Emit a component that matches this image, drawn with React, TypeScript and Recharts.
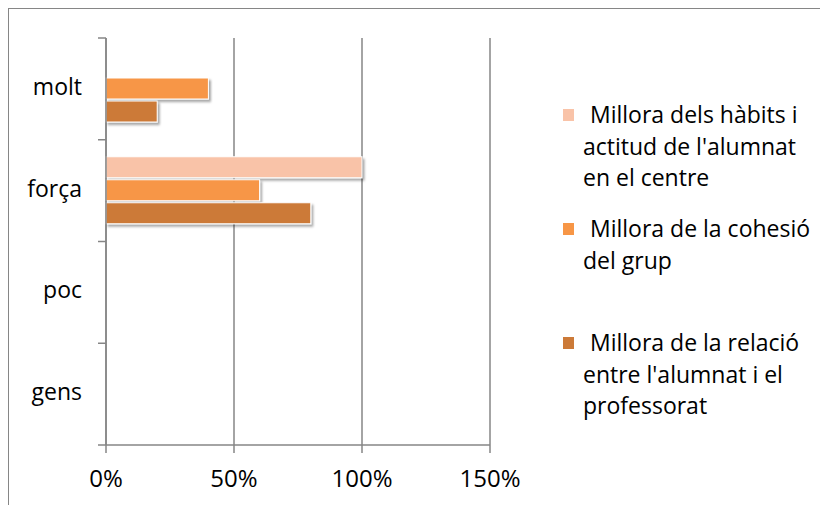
import { Bar, BarChart, CartesianGrid, XAxis, YAxis } from "recharts";

const categories = ["molt", "força", "poc", "gens"];
const habitsValues = [0, 100, 0, 0];
const cohesionValues = [40, 60, 0, 0];
const relationValues = [20, 80, 0, 0];
const xTicks = [0, 50, 100, 150];

const seriesNames = [
  "Millora dels hàbits i\nactitud de l'alumnat\nen el centre",
  "Millora de la cohesió\ndel grup",
  "Millora de la relació\nentre l'alumnat i el\nprofessorat",
];
const seriesColors = ["#F9C3A8", "#F79646", "#CC7A38"];

const data = categories.map((cat, i) => ({
  cat,
  habits: habitsValues[i],
  cohesion: cohesionValues[i],
  relation: relationValues[i],
}));

const AXIS = "#868686";
const FONT = "'Open Sans', 'Noto Sans', sans-serif";

function ShadowRect(props: any) {
  const { x, y, width, height, fill } = props;
  if (!width || width <= 0) return null;
  return (
    <rect x={x} y={y} width={width} height={height} fill={fill} stroke="#fff" strokeWidth={1} filter="url(#barShadow)" />
  );
}

// category label plus Excel-style tick marks on the band boundaries
function CategoryTick(props: any) {
  const { x, y, payload, index, visibleTicksCount } = props;
  const half = payload.offset ?? 0;
  const last = index === visibleTicksCount - 1;
  return (
    <g>
      <line x1={x - 8} x2={x} y1={y - half} y2={y - half} stroke={AXIS} strokeWidth={1.5} />
      {last && <line x1={x - 8} x2={x} y1={y + half} y2={y + half} stroke={AXIS} strokeWidth={1.5} />}
      <text x={x - 24} y={y} dy={6} textAnchor="end" fontSize={23} fill="#000" fontFamily={FONT}>
        {payload.value}
      </text>
    </g>
  );
}

export default function App() {
  const keys = ["habits", "cohesion", "relation"];
  return (
    <div style={{ position: "relative", width: 817, height: 510, border: `1px solid ${AXIS}`, fontFamily: FONT }}>
      <style>{`html,body{overflow:hidden}`}</style>
      <svg width={0} height={0} style={{ position: "absolute" }}>
        <defs>
          <filter id="barShadow" x="-10%" y="-30%" width="130%" height="180%">
            <feDropShadow dx={2} dy={2.5} stdDeviation={1.3} floodColor="#000" floodOpacity={0.35} />
          </filter>
        </defs>
      </svg>
      <div style={{ position: "absolute", left: 0, top: 0 }}>
        <BarChart
          width={540}
          height={486}
          data={data}
          layout="vertical"
          margin={{ top: 29, right: 59, bottom: 0, left: 0 }}
          barSize={21}
          barGap={2}
        >
          <CartesianGrid horizontal={false} stroke={AXIS} strokeWidth={1.5} />
          <XAxis
            type="number"
            domain={[0, 150]}
            ticks={xTicks}
            tickFormatter={(v: number) => `${v}%`}
            height={50}
            tickSize={8}
            tickMargin={17}
            axisLine={{ stroke: AXIS, strokeWidth: 1.5 }}
            tickLine={{ stroke: AXIS, strokeWidth: 1.5 }}
            tick={{ fontSize: 24, fill: "#000", fontFamily: FONT }}
          />
          <YAxis
            type="category"
            dataKey="cat"
            width={97}
            tickSize={0}
            tickMargin={0}
            axisLine={{ stroke: AXIS, strokeWidth: 1.5 }}
            tickLine={false}
            tick={<CategoryTick />}
          />
          {keys.map((k, i) => (
            <Bar
              key={k}
              dataKey={k}
              name={seriesNames[i].replace(/\n/g, " ")}
              fill={seriesColors[i]}
              shape={<ShadowRect />}
              isAnimationActive={false}
            />
          ))}
        </BarChart>
      </div>
      {seriesNames.map((name, i) => (
        <div
          key={name}
          style={{
            position: "absolute",
            left: 554,
            top: 90 + i * 114,
            fontSize: 23,
            lineHeight: "31.5px",
            color: "#000",
          }}
        >
          <span
            style={{
              position: "absolute",
              left: 0,
              top: 10,
              width: 11,
              height: 12,
              background: seriesColors[i],
            }}
          />
          <div style={{ marginLeft: 20, whiteSpace: "nowrap" }}>
            {name.split("\n").map((line, j) => (
              <div key={j} style={{ paddingLeft: j === 0 ? 7 : 0 }}>
                {line}
              </div>
            ))}
          </div>
        </div>
      ))}
    </div>
  );
}
